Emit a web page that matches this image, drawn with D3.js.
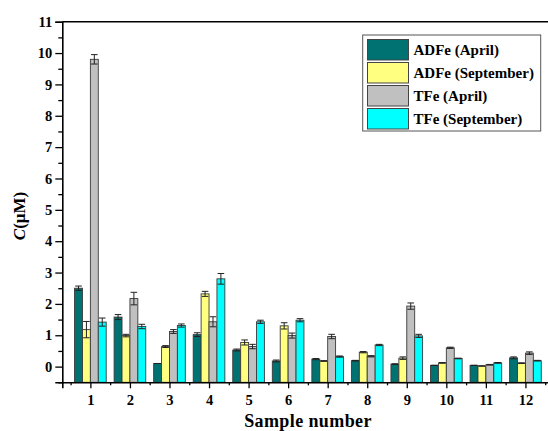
<!DOCTYPE html>
<html>
<head>
<meta charset="utf-8">
<script src="https://cdn.jsdelivr.net/npm/d3@7"></script>
<style>
  html, body { margin: 0; padding: 0; background: #fff; }
  svg { display: block; }
  text { font-family: "Liberation Serif", "Times New Roman", serif; font-weight: bold; }
</style>
</head>
<body>
<svg id="chart" width="548" height="431"></svg>
<script>
const categories = [1, 2, 3, 4, 5, 6, 7, 8, 9, 10, 11, 12];
const seriesNames = ["ADFe (April)", "ADFe (September)", "TFe (April)", "TFe (September)"];
const seriesColors = ["#007272", "#ffff80", "#c0c0c0", "#00ffff"];
const adfeApril      = [2.50, 1.58, 0.10, 1.02, 0.53, 0.18, 0.24, 0.19, 0.08, 0.04, 0.04, 0.28];
const adfeApril_err  = [0.07, 0.08, 0.00, 0.06, 0.03, 0.03, 0.02, 0.01, 0.01, 0.00, 0.00, 0.03];
const adfeSept       = [1.18, 0.99, 0.64, 2.32, 0.77, 1.30, 0.18, 0.46, 0.27, 0.12, 0.02, 0.11];
const adfeSept_err   = [0.26, 0.04, 0.03, 0.08, 0.08, 0.10, 0.01, 0.02, 0.04, 0.01, 0.00, 0.01];
const tfeApril       = [9.80, 2.17, 1.12, 1.43, 0.64, 0.99, 0.96, 0.33, 1.93, 0.60, 0.06, 0.43];
const tfeApril_err   = [0.15, 0.20, 0.06, 0.16, 0.07, 0.08, 0.07, 0.02, 0.10, 0.02, 0.01, 0.04];
const tfeSept        = [1.42, 1.28, 1.31, 2.80, 1.43, 1.48, 0.32, 0.69, 0.98, 0.26, 0.12, 0.19];
const tfeSept_err    = [0.13, 0.07, 0.05, 0.17, 0.05, 0.05, 0.02, 0.02, 0.05, 0.01, 0.01, 0.01];
const yTicks = [0, 1, 2, 3, 4, 5, 6, 7, 8, 9, 10, 11];

const seriesValues = [adfeApril, adfeSept, tfeApril, tfeSept];
const seriesErrors = [adfeApril_err, adfeSept_err, tfeApril_err, tfeSept_err];

const svg = d3.select("#chart");
const plotLeft = 62.3, plotTop = 21.7, plotBottom = 382.3;
const x = d3.scaleLinear().domain([0.29, 12.71]).range([plotLeft, plotLeft + 12.42 * 39.55]);
const y = d3.scaleLinear().domain([-0.5, 11]).range([plotBottom, plotTop]);
const barW = 0.2;

// bars
const g = svg.append("g");
seriesValues.forEach((vals, si) => {
  const off = -0.4 + si * barW;
  g.selectAll(null).data(vals).enter().append("rect")
    .attr("x", (d, i) => x(categories[i] + off))
    .attr("width", (d, i) => x(categories[i] + off + barW) - x(categories[i] + off))
    .attr("y", d => y(d))
    .attr("height", d => y(-0.5) - y(d))
    .attr("fill", seriesColors[si])
    .attr("stroke", "#3a3a3a")
    .attr("stroke-width", 0.9);
  // error bars
  const eg = g.append("g").attr("stroke", "#222").attr("stroke-width", 1);
  vals.forEach((d, i) => {
    const e = seriesErrors[si][i];
    const cx = x(categories[i] + off + barW / 2);
    const hw = 3.3;
    eg.append("line").attr("x1", cx).attr("x2", cx).attr("y1", y(d + e)).attr("y2", y(d - e));
    eg.append("line").attr("x1", cx - hw).attr("x2", cx + hw).attr("y1", y(d + e)).attr("y2", y(d + e));
    eg.append("line").attr("x1", cx - hw).attr("x2", cx + hw).attr("y1", y(d - e)).attr("y2", y(d - e));
  });
});

// axes
const yAxis = d3.axisLeft(y).tickValues(yTicks).tickFormat(d3.format("d")).tickSize(7).tickPadding(3);
const yMinor = d3.axisLeft(y).tickValues(d3.range(-0.5, 11, 1)).tickFormat("").tickSize(4);
const yAxG = svg.append("g").attr("transform", `translate(${plotLeft},0)`).call(yAxis);
svg.append("g").attr("transform", `translate(${plotLeft},0)`).call(yMinor).select(".domain").remove();
yAxG.selectAll("text").attr("font-size", 14.5).attr("font-family", "Liberation Serif").attr("font-weight", "bold").attr("fill", "#000");

const xAxis = d3.axisBottom(x).tickValues(categories).tickFormat(d3.format("d")).tickSize(6).tickPadding(6);
const xMinor = d3.axisBottom(x).tickValues(d3.range(0.5, 13, 1)).tickFormat("").tickSize(3);
const xAxG = svg.append("g").attr("transform", `translate(0,${plotBottom})`).call(xAxis);
svg.append("g").attr("transform", `translate(0,${plotBottom})`).call(xMinor).select(".domain").remove();
xAxG.selectAll("text").attr("font-size", 14.5).attr("font-family", "Liberation Serif").attr("font-weight", "bold").attr("fill", "#000");

svg.selectAll(".domain").attr("stroke", "#000").attr("stroke-width", 1.6);
svg.selectAll(".tick line").attr("stroke", "#000").attr("stroke-width", 1.3);

// top frame line
svg.append("line").attr("x1", plotLeft).attr("x2", x(12.71)).attr("y1", y(11)).attr("y2", y(11))
  .attr("stroke", "#000").attr("stroke-width", 1.6);

// axis titles
svg.append("text").attr("x", 308).attr("y", 427).attr("text-anchor", "middle")
  .attr("font-size", 18).attr("letter-spacing", 0.4).text("Sample number");

const yl = svg.append("text").attr("transform", "translate(25,216) rotate(-90)")
  .attr("text-anchor", "middle").attr("font-size", 17);
yl.append("tspan").attr("font-style", "italic").text("C");
yl.append("tspan").text("(μM)");

// legend
const lg = svg.append("g");
lg.append("rect").attr("x", 362.7).attr("y", 35).attr("width", 178).attr("height", 96)
  .attr("fill", "#fff").attr("stroke", "#555").attr("stroke-width", 1);
seriesNames.forEach((name, i) => {
  const ry = 39.5 + i * 23;
  lg.append("rect").attr("x", 367.5).attr("y", ry).attr("width", 41).attr("height", 20.5)
    .attr("fill", seriesColors[i]).attr("stroke", "#444").attr("stroke-width", 1);
  lg.append("text").attr("x", 413.5).attr("y", ry + 15.5).attr("font-size", 15).text(name);
});
</script>
</body>
</html>
